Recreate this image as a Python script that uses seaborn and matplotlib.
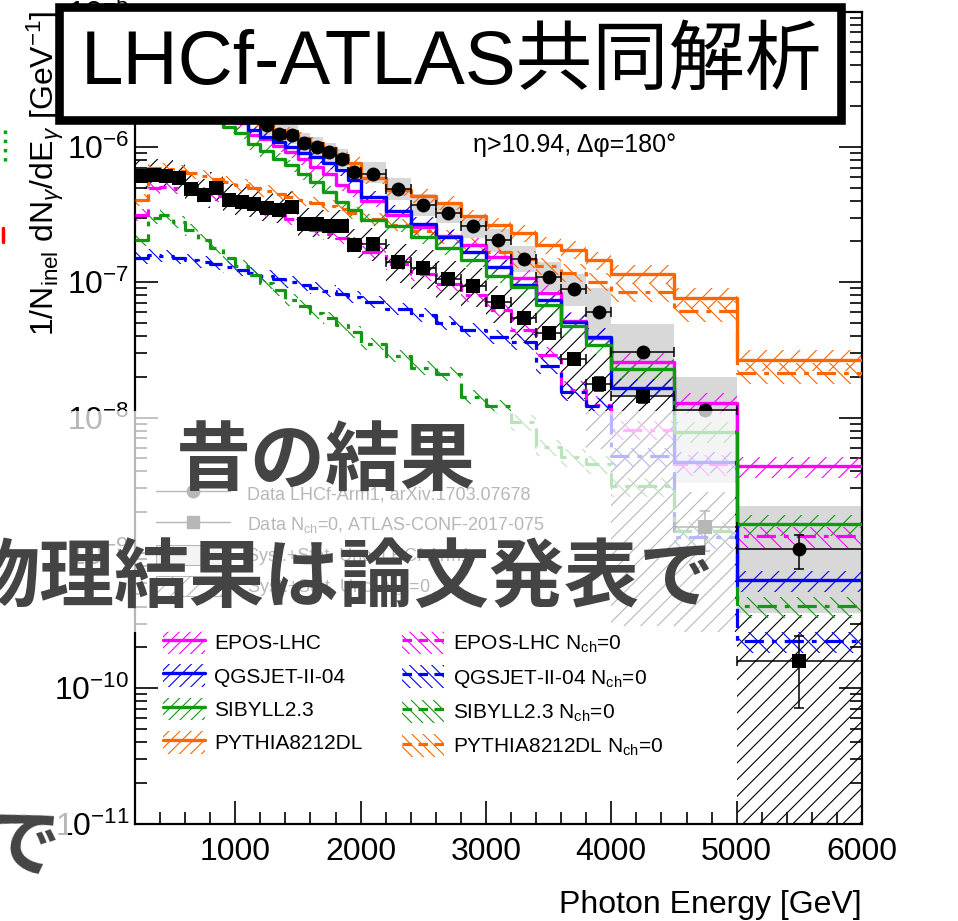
import numpy as np
import matplotlib
matplotlib.use('Agg')
import matplotlib.pyplot as plt
import seaborn as sns
from matplotlib.patches import Rectangle, Patch
from matplotlib.lines import Line2D
from matplotlib.ticker import MultipleLocator, LogLocator, NullFormatter

sns.set_theme(style='ticks')
plt.rcParams['font.family'] = ['Liberation Sans', 'Noto Sans CJK JP', 'DejaVu Sans']
plt.rcParams['mathtext.fontset'] = 'custom'
plt.rcParams['mathtext.rm'] = 'Liberation Sans'
plt.rcParams['mathtext.it'] = 'Liberation Sans:italic'
plt.rcParams['mathtext.bf'] = 'Liberation Sans:bold'
plt.rcParams['hatch.linewidth'] = 0.8
for k in ['text.color', 'axes.labelcolor', 'xtick.color', 'ytick.color', 'axes.edgecolor']:
    plt.rcParams[k] = 'black'

# ---------------- data ----------------
edges = [200, 300, 400, 500, 600, 700, 800, 900, 1000, 1100, 1200, 1300, 1400, 1500,
         1600, 1700, 1800, 1900, 2000, 2200, 2400, 2600, 2800, 3000, 3200, 3400, 3600,
         3800, 4000, 4500, 5000, 6000]

lhcf = [2.0e-6, 2.6e-6, 2.9e-6, 3.0e-6, 2.9e-6, 2.7e-6, 2.4e-6, 2.1e-6, 1.95e-6, 1.75e-6,
        1.45e-6, 1.25e-6, 1.23e-6, 1.07e-6, 1.0e-6, 0.91e-6, 0.815e-6, 0.657e-6,
        0.632e-6, 0.488e-6, 0.373e-6, 0.327e-6, 0.258e-6, 0.2035e-6, 0.149e-6, 0.110e-6,
        0.0891e-6, 0.0603e-6, 3.05e-8, 1.13e-8, 1.06e-9]
lhcf_stat = [0.01, 0.01, 0.01, 0.01, 0.01, 0.01, 0.01, 0.01, 0.01, 0.01,
             0.01, 0.01, 0.01, 0.01, 0.01, 0.01, 0.01, 0.01,
             0.01, 0.01, 0.01, 0.01, 0.01, 0.02, 0.02, 0.02, 0.02, 0.03, 0.04, 0.08, 0.28]
lhcf_up = [0.18, 0.18, 0.18, 0.18, 0.18, 0.18, 0.18, 0.18, 0.18, 0.18,
           0.18, 0.18, 0.18, 0.18, 0.18, 0.18, 0.18, 0.18,
           0.22, 0.20, 0.20, 0.20, 0.20, 0.22, 0.25, 0.28, 0.30, 0.50, 0.60, 0.75, 1.08]
lhcf_dn = [0.15, 0.15, 0.15, 0.15, 0.15, 0.15, 0.15, 0.15, 0.15, 0.15,
           0.15, 0.15, 0.15, 0.15, 0.15, 0.15, 0.15, 0.15,
           0.15, 0.17, 0.17, 0.17, 0.18, 0.18, 0.20, 0.22, 0.25, 0.35, 0.52, 0.71, 0.66]

nch0 = [0.611e-6, 0.621e-6, 0.611e-6, 0.590e-6, 0.490e-6, 0.442e-6, 0.498e-6, 0.406e-6,
        0.393e-6, 0.380e-6, 0.355e-6, 0.343e-6, 0.361e-6, 0.270e-6, 0.270e-6, 0.261e-6,
        0.261e-6, 0.189e-6, 0.192e-6, 0.1417e-6, 0.128e-6, 0.106e-6, 0.0942e-6, 0.0718e-6,
        0.0547e-6, 0.0424e-6, 0.0272e-6, 0.0178e-6, 1.43e-8, 1.54e-9, 1.58e-10]
nch0_stat = [0.01, 0.01, 0.01, 0.01, 0.01, 0.01, 0.01, 0.01, 0.01, 0.01,
             0.01, 0.01, 0.01, 0.01, 0.01, 0.01, 0.01, 0.01,
             0.02, 0.02, 0.02, 0.03, 0.03, 0.04, 0.05, 0.06, 0.08, 0.12, 0.10, 0.33, 0.55]
nch0_up = [0.30, 0.30, 0.30, 0.30, 0.30, 0.30, 0.30, 0.30, 0.30, 0.30,
           0.30, 0.30, 0.30, 0.30, 0.30, 0.30, 0.30, 0.30,
           0.30, 0.35, 0.35, 0.35, 0.35, 0.30, 0.50, 0.80, 0.60, 0.65, 0.64, 0.84, 1.18]
nch0_dn = [0.20, 0.20, 0.20, 0.20, 0.20, 0.20, 0.20, 0.20, 0.20, 0.20,
           0.20, 0.20, 0.20, 0.20, 0.20, 0.20, 0.20, 0.20,
           0.25, 0.30, 0.30, 0.30, 0.30, 0.30, 0.35, 0.35, 0.50, 0.67, 0.98, 0.83, 0.999]

epos = [2.1e-6, 2.9e-6, 3.1e-6, 3.1e-6, 2.9e-6, 2.6e-6, 2.3e-6, 1.9e-6, 1.5e-6, 1.226e-6,
        1.146e-6, 1.017e-6, 0.919e-6, 0.815e-6, 0.712e-6, 0.632e-6, 0.524e-6, 0.4735e-6,
        0.3994e-6, 0.315e-6, 0.2546e-6, 0.2203e-6, 0.1891e-6, 0.1543e-6, 0.1079e-6,
        0.0836e-6, 0.052e-6, 0.039e-6, 0.0259e-6, 0.0129e-6, 4.35e-9]
qgsjet = [2.0e-6, 2.8e-6, 3.0e-6, 3.0e-6, 2.9e-6, 2.7e-6, 2.4e-6, 2.1e-6, 1.65e-6, 1.335e-6,
          1.191e-6, 1.094e-6, 1.005e-6, 0.903e-6, 0.844e-6, 0.762e-6, 0.677e-6, 0.571e-6,
          0.4276e-6, 0.337e-6, 0.270e-6, 0.2167e-6, 0.168e-6, 0.130e-6, 0.0958e-6,
          0.0743e-6, 0.0511e-6, 0.0396e-6, 0.01665e-6, 4.73e-9, 6.26e-10]
sibyll = [1.8e-6, 2.6e-6, 2.8e-6, 2.8e-6, 2.6e-6, 2.3e-6, 2.0e-6, 1.405e-6, 1.269e-6, 1.052e-6,
          0.934e-6, 0.815e-6, 0.728e-6, 0.632e-6, 0.5515e-6, 0.4656e-6, 0.393e-6, 0.3388e-6,
          0.2892e-6, 0.261e-6, 0.2167e-6, 0.1797e-6, 0.1466e-6, 0.1117e-6, 0.0922e-6,
          0.0682e-6, 0.0472e-6, 0.0346e-6, 0.023e-6, 7.88e-9, 1.623e-9]
pythia = [2.2e-6, 3.0e-6, 3.2e-6, 3.2e-6, 3.1e-6, 2.9e-6, 2.6e-6, 2.3e-6, 2.0e-6, 1.55e-6,
          1.405e-6, 1.312e-6, 1.269e-6, 1.165e-6, 1.070e-6, 0.983e-6, 0.873e-6, 0.762e-6,
          0.590e-6, 0.4816e-6, 0.435e-6, 0.386e-6, 0.307e-6, 0.2656e-6, 0.2318e-6,
          0.1891e-6, 0.1738e-6, 0.1453e-6, 0.1155e-6, 0.0768e-6, 0.0268e-6]

epos_nch0 = [0.315e-6, 0.498e-6, 0.507e-6, 0.498e-6, 0.4816e-6, 0.4575e-6, 0.435e-6, 0.4133e-6,
             0.386e-6, 0.3607e-6, 0.337e-6, 0.315e-6, 0.2942e-6, 0.2656e-6, 0.244e-6, 0.228e-6,
             0.213e-6, 0.1956e-6, 0.168e-6, 0.137e-6, 0.1155e-6, 0.0975e-6, 0.0808e-6,
             0.0627e-6, 0.0446e-6, 0.0292e-6, 0.0161e-6, 0.01247e-6, 8.15e-9, 4.50e-9, 1.323e-9]
qgsjet_nch0 = [0.1516e-6, 0.1596e-6, 0.157e-6, 0.1516e-6, 0.1466e-6, 0.1416e-6, 0.137e-6,
               0.130e-6, 0.1237e-6, 0.1175e-6, 0.1117e-6, 0.1061e-6, 0.1009e-6, 0.0958e-6,
               0.0911e-6, 0.0866e-6, 0.0823e-6, 0.0782e-6, 0.0718e-6, 0.0637e-6, 0.0576e-6,
               0.0502e-6, 0.0446e-6, 0.0396e-6, 0.0364e-6, 0.0242e-6, 0.01556e-6, 0.01206e-6,
               5.16e-9, 1.301e-9, 2.22e-10]
sibyll_nch0 = [0.206e-6, 0.299e-6, 0.315e-6, 0.2796e-6, 0.244e-6, 0.206e-6, 0.1797e-6,
               0.1516e-6, 0.1323e-6, 0.1136e-6, 0.0992e-6, 0.0881e-6, 0.0743e-6, 0.0671e-6,
               0.0596e-6, 0.0547e-6, 0.0486e-6, 0.0431e-6, 0.0352e-6, 0.0287e-6, 0.0234e-6,
               0.0211e-6, 0.01429e-6, 0.01206e-6, 9.19e-9, 6.01e-9, 5.07e-9, 4.50e-9,
               3.10e-9, 1.441e-9, 4.03e-10]
pythia_nch0 = [0.4064e-6, 0.700e-6, 0.688e-6, 0.665e-6, 0.643e-6, 0.611e-6, 0.580e-6,
               0.5515e-6, 0.524e-6, 0.498e-6, 0.4735e-6, 0.4498e-6, 0.4276e-6, 0.4064e-6,
               0.386e-6, 0.367e-6, 0.3486e-6, 0.3258e-6, 0.2942e-6, 0.2656e-6, 0.240e-6,
               0.2167e-6, 0.1891e-6, 0.168e-6, 0.149e-6, 0.1323e-6, 0.1175e-6, 0.1009e-6,
               0.0851e-6, 0.0616e-6, 0.0215e-6]
mc_unc = [0.10, 0.10, 0.10, 0.10, 0.10, 0.10, 0.10, 0.10, 0.10, 0.10,
          0.10, 0.10, 0.10, 0.10, 0.10, 0.10, 0.10, 0.10,
          0.10, 0.10, 0.12, 0.12, 0.12, 0.12, 0.14, 0.14, 0.15, 0.15, 0.16, 0.18, 0.18]

model_names = ['EPOS-LHC', 'QGSJET-II-04', 'SIBYLL2.3', 'PYTHIA8212DL']
model_colors = ['#ff00ff', '#0000ff', '#119911', '#ff6600']
xticks = [1000, 2000, 3000, 4000, 5000, 6000]

title_text = 'LHCf-ATLAS共同解析'
note_old = '昔の結果'
note_paper = '物理結果は論文発表で'

# ---------------- figure ----------------
W, H = 958, 921
fig = plt.figure(figsize=(W / 100, H / 100), dpi=100)
ax = fig.add_axes([135 / W, 1 - 823.5 / H, (862 - 135) / W, (823.5 - 11.5) / H])
ax.set_yscale('log')

e = np.array(edges, float)
centers = 0.5 * (e[:-1] + e[1:])
halfw = 0.5 * np.diff(e)

# data bands
lh = np.array(lhcf)
ax.stairs(lh * (1 + np.array(lhcf_up)), e, baseline=lh * (1 - np.array(lhcf_dn)),
          fill=True, color='#d8d8d8', linewidth=0, zorder=1)
n0 = np.array(nch0)
ax.stairs(n0 * (1 + np.array(nch0_up)), e, baseline=n0 * (1 - np.array(nch0_dn)),
          fill=True, facecolor='none', edgecolor='black', hatch='//', linewidth=0, zorder=1.5)

# MC bands and lines
incl = [epos, qgsjet, sibyll, pythia]
excl = [epos_nch0, qgsjet_nch0, sibyll_nch0, pythia_nch0]
unc = np.array(mc_unc)
dashed = (0, (6, 2.5, 1.5, 2.5))
for vals, c in zip(excl, model_colors):
    v = np.array(vals)
    ax.stairs(v * (1 + unc), e, baseline=v * (1 - unc), fill=True, facecolor='none',
              edgecolor=c, hatch='\\\\', linewidth=0, zorder=2)
    sns.lineplot(x=e, y=np.append(v, v[-1]), drawstyle='steps-post', color=c,
                 linewidth=2.3, linestyle=dashed, ax=ax, legend=False, zorder=3)
for vals, c in zip(incl, model_colors):
    v = np.array(vals)
    ax.stairs(v * (1 + unc), e, baseline=v * (1 - unc), fill=True, facecolor='none',
              edgecolor=c, hatch='//', linewidth=0, zorder=2)
    sns.lineplot(x=e, y=np.append(v, v[-1]), drawstyle='steps-post', color=c,
                 linewidth=2.4, ax=ax, legend=False, zorder=3.2)

# data points
st = np.array(lhcf_stat)
ax.errorbar(centers, lh, xerr=halfw, yerr=[lh * st, lh * st], fmt='none', ecolor='black',
            elinewidth=1.1, capsize=3.5, capthick=1.1, zorder=5)
sns.scatterplot(x=centers, y=lh, marker='o', s=100, color='black', linewidth=0,
                ax=ax, legend=False, zorder=6)
st0 = np.array(nch0_stat)
ax.errorbar(centers, n0, xerr=halfw, yerr=[n0 * st0, n0 * st0], fmt='none', ecolor='black',
            elinewidth=1.1, capsize=3.5, capthick=1.1, zorder=5)
sns.scatterplot(x=centers, y=n0, marker='s', s=90, color='black', linewidth=0,
                ax=ax, legend=False, zorder=6)

ax.set_xlim(200, 6000)
ax.set_ylim(1e-11, 1e-5)

ax.xaxis.set_minor_locator(MultipleLocator(200))
ax.set_xticks(xticks)
ax.yaxis.set_major_locator(LogLocator(base=10, numticks=20))
ax.yaxis.set_minor_locator(LogLocator(base=10, subs=np.arange(2, 10), numticks=20))
ax.yaxis.set_minor_formatter(NullFormatter())
ax.tick_params(which='major', direction='in', length=16.5, width=1.2, labelsize=23,
               top=True, right=True)
ax.tick_params(which='minor', direction='in', length=8.5, width=1.2, top=True, right=True)
ax.tick_params(axis='x', which='major', pad=10)
ax.tick_params(axis='y', which='major', pad=4)
for s in ax.spines.values():
    s.set_linewidth(1.6)
    s.set_color('black')
ax.grid(False)
ax.set_xlabel('Photon Energy [GeV]', loc='right', fontsize=23, labelpad=16)

# legends
h1 = [Line2D([0], [0], color='black', lw=1.0, marker='o', ms=9),
      Line2D([0], [0], color='black', lw=1.0, marker='s', ms=9),
      Patch(facecolor='#d8d8d8', edgecolor='black', lw=0.8),
      Patch(facecolor='white', edgecolor='black', hatch='//', lw=0.8)]
l1 = ['Data LHCf-Arm1, arXiv:1703.07678', r'Data N$_{\rm ch}$=0, ATLAS-CONF-2017-075',
      'Syst.+Stat. Unc. LHCf-Arm1', r'Syst.+Stat. Unc. N$_{\rm ch}$=0']
leg1 = ax.legend(h1, l1, loc='upper left', bbox_to_anchor=(156 / W, 1 - 483 / H),
                 bbox_transform=fig.transFigure, frameon=False, fontsize=13,
                 handlelength=4.1, handleheight=1.33, handletextpad=0.94,
                 labelspacing=0.58, borderpad=0, borderaxespad=0)
ax.add_artist(leg1)

h2, l2 = [], []
for n, c in zip(model_names, model_colors):
    h2.append((Patch(facecolor='none', edgecolor=c, hatch='///', lw=0),
               Line2D([0], [0], color=c, lw=2.4)))
    l2.append(n)
for n, c in zip(model_names, model_colors):
    h2.append((Patch(facecolor='none', edgecolor=c, hatch='\\\\\\', lw=0),
               Line2D([0], [0], color=c, lw=2.3, ls=(0, (3, 2)))))
    l2.append(n + r' N$_{\rm ch}$=0')
leg2 = ax.legend(h2, l2, ncol=2, loc='upper left', bbox_to_anchor=(163 / W, 1 - 631 / H),
                 bbox_transform=fig.transFigure, frameon=False, fontsize=15,
                 handlelength=2.0, handleheight=1.3, handletextpad=0.45,
                 labelspacing=0.51, columnspacing=1.9, borderpad=0, borderaxespad=0)

# annotation
fig.text(575 / W, 1 - 145 / H, 'η>10.94, Δφ=180°', fontsize=18, ha='center', va='center')

# y label
fig.text(45 / W, 1 - 11 / H, r'1/N$_{\rm inel}$ dN$_{\gamma}$/dE$_{\gamma}$ [GeV$^{-1}$]',
         rotation=90, ha='center', va='top', fontsize=23)

# fading overlay over the old result
fig.add_artist(Rectangle((0, 1 - 632 / H), 735 / W, 221 / H, transform=fig.transFigure,
                         facecolor='white', edgecolor='none', alpha=0.72, zorder=5))
# small fading patch near the bottom-left label
fig.add_artist(Rectangle((55 / W, 1 - 838 / H), 13 / W, 30 / H, transform=fig.transFigure,
                         facecolor='white', edgecolor='none', alpha=0.72, zorder=5))

# title box
fig.add_artist(Rectangle((59 / W, 1 - 120 / H), (841 - 59) / W, (120 - 7.5) / H,
                         transform=fig.transFigure, facecolor='white', edgecolor='black',
                         linewidth=6.2, zorder=8))
fig.text(451 / W, 1 - 64 / H, title_text, fontsize=55, color='black',
         ha='center', va='center', zorder=9)

# slide notes
fig.text(326 / W, 1 - 463 / H, note_old, fontsize=54, fontweight='bold', color='#444444',
         ha='center', va='center', zorder=10)
fig.text(-35 / W, 1 - 580 / H, note_paper, fontsize=54, fontweight='bold', color='#444444',
         ha='left', va='center', zorder=10)
fig.text(22 / W, 1 - 850 / H, 'で', fontsize=54, fontweight='bold', color='#444444',
         ha='center', va='center', rotation=-6, zorder=10)

# small cut-off marks at the left edge
fig.add_artist(Line2D([3 / W, 3 / W], [1 - 228 / H, 1 - 242 / H], color='red', lw=2.5,
                      transform=fig.transFigure))
fig.add_artist(Line2D([5 / W, 5 / W], [1 - 130 / H, 1 - 162 / H], color='#00aa00', lw=2.5,
                      ls=':', transform=fig.transFigure))

fig.savefig('out.png', dpi=100)
